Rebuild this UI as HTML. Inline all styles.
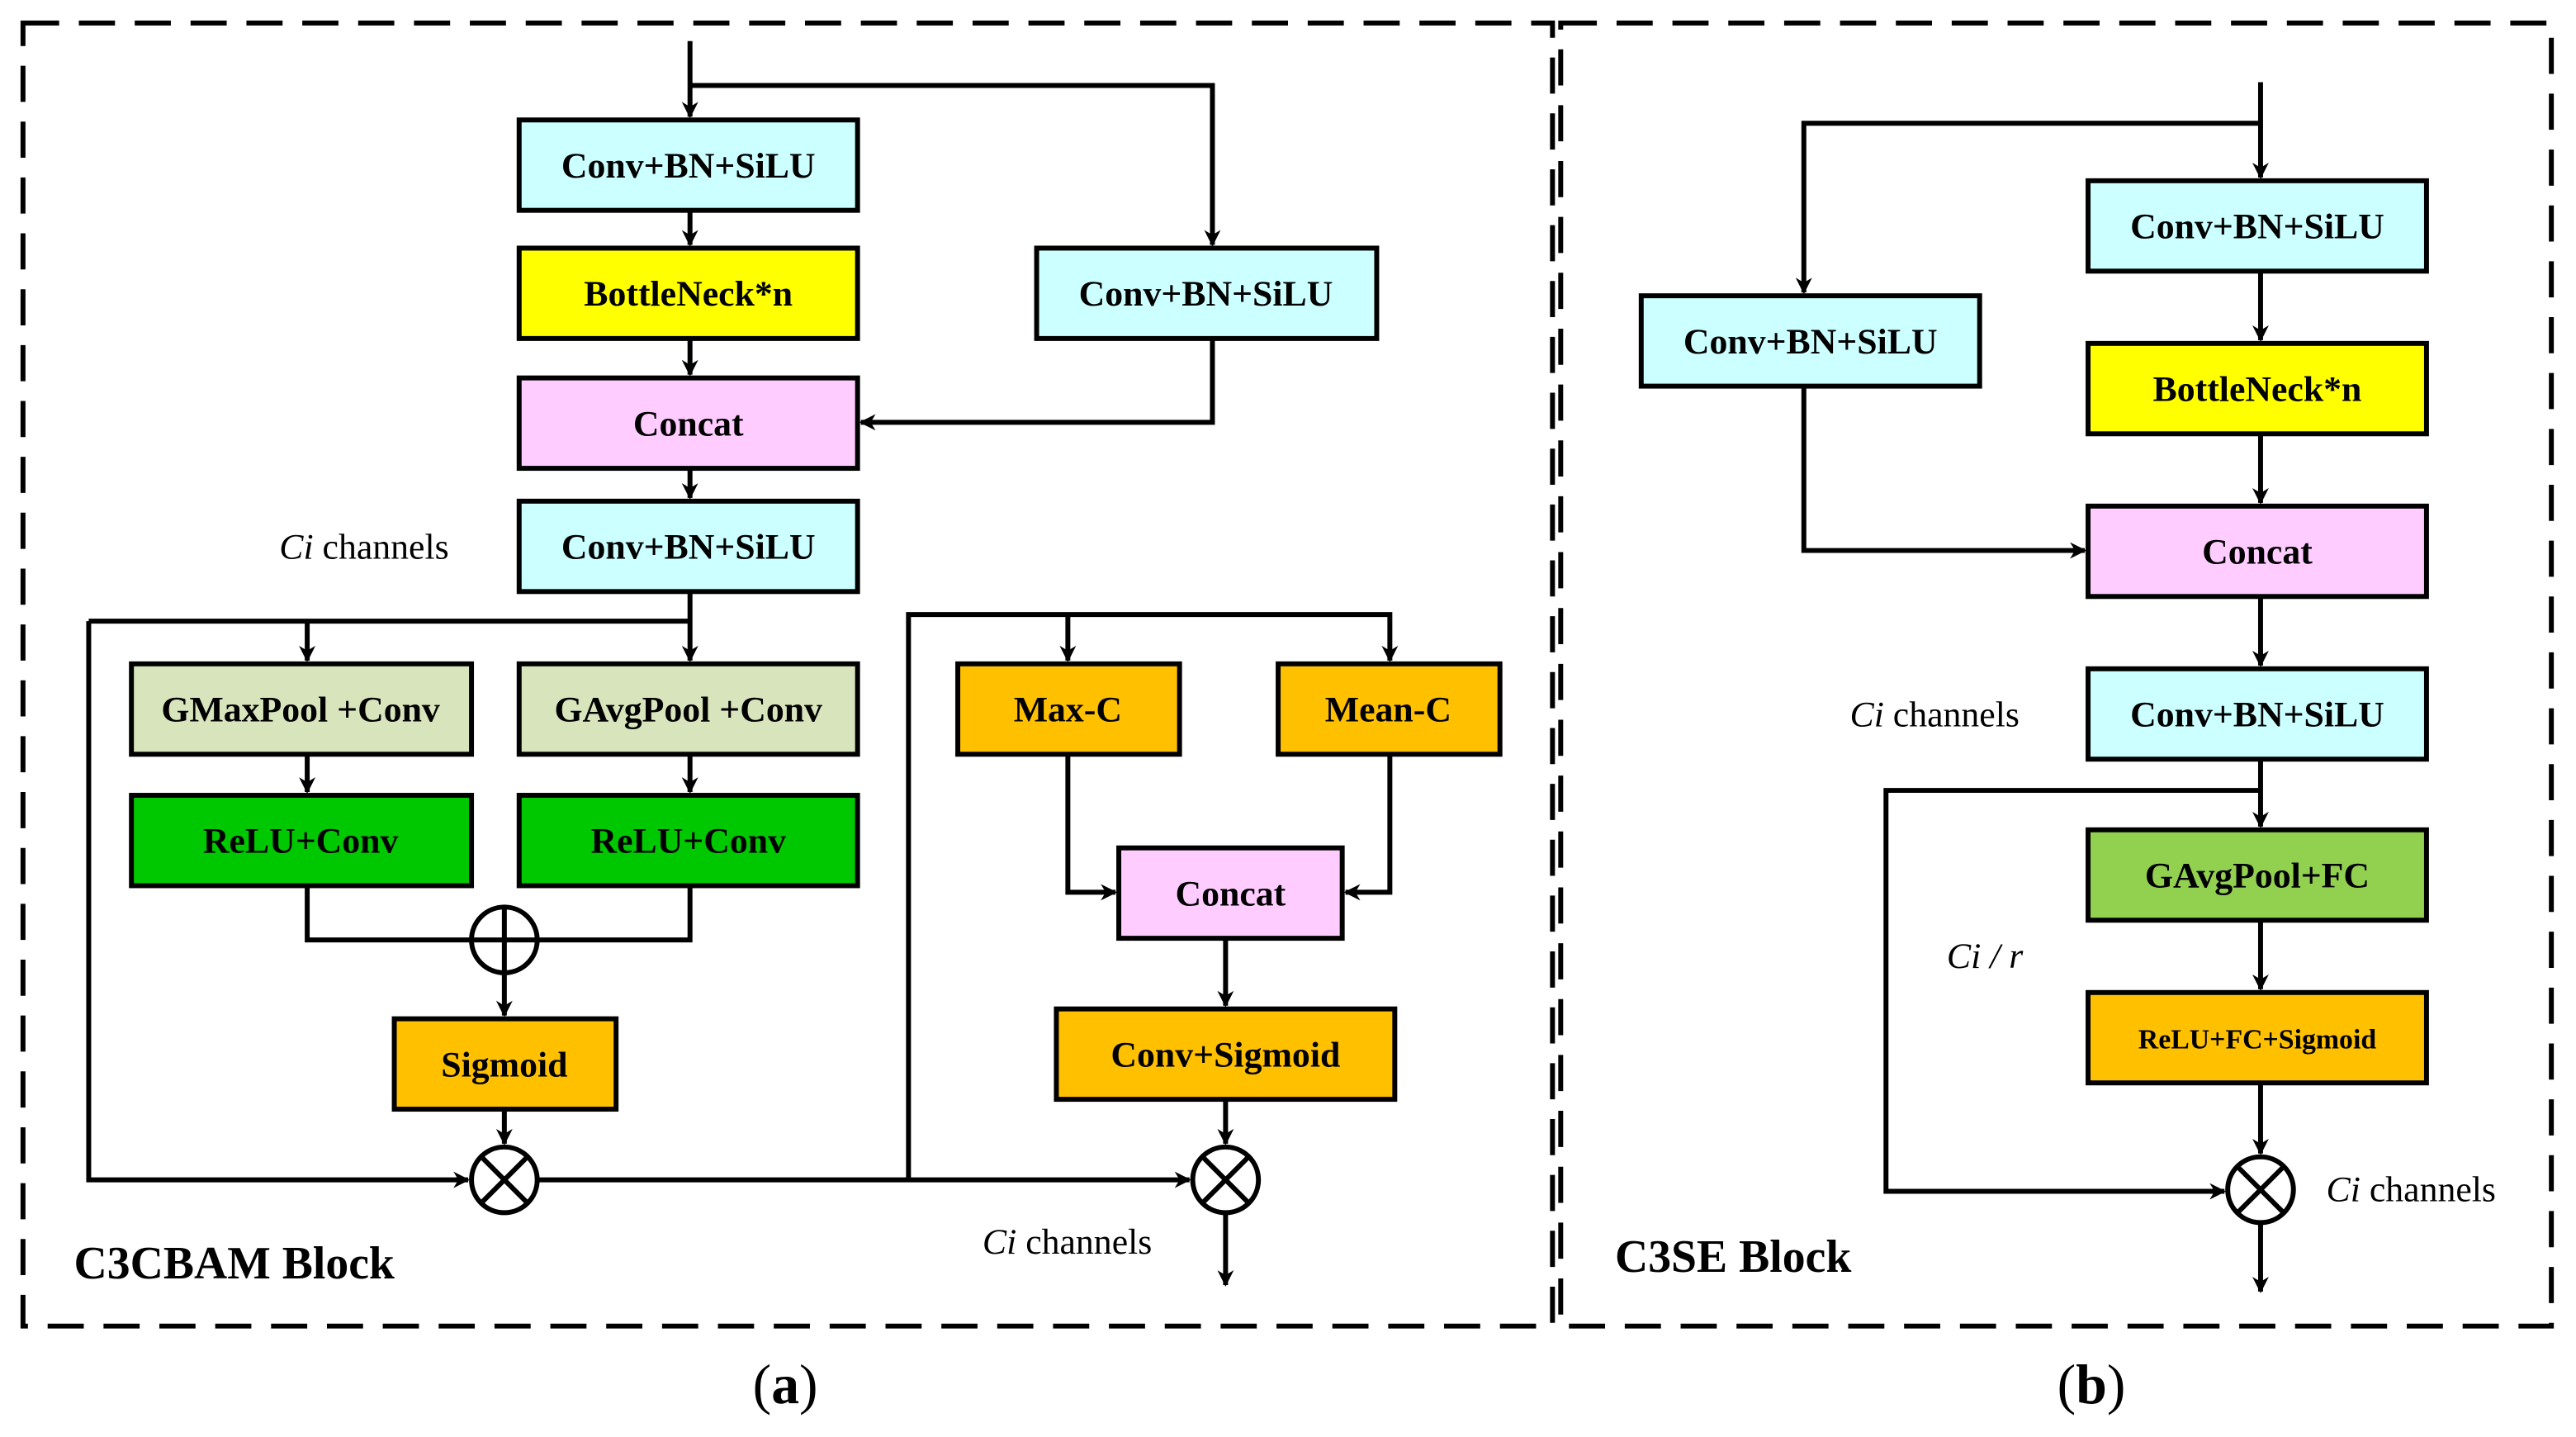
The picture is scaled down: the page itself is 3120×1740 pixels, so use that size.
<!DOCTYPE html>
<html><head><meta charset="utf-8"><style>html,body{margin:0;padding:0;background:#fff}svg{display:block}</style></head>
<body>
<svg width="3120" height="1740" viewBox="0 0 1568 874.5" preserveAspectRatio="none" xmlns="http://www.w3.org/2000/svg">
<defs>
<marker id="a" markerWidth="10" markerHeight="10" refX="9" refY="5" orient="auto" markerUnits="userSpaceOnUse"><path d="M0,0 L10,5 L0,10 L3,5 z" fill="#000"/></marker>
</defs>
<g fill="none" stroke="#000" stroke-width="3" stroke-dasharray="22 12">
<rect x="14" y="14" width="931" height="793"/>
<rect x="950" y="14" width="603" height="793"/>
</g>
<g stroke="#000" stroke-width="3">
<rect x="316" y="73" width="206" height="55" fill="#ccffff"/>
<rect x="316" y="151" width="206" height="55" fill="#ffff00"/>
<rect x="316" y="230" width="206" height="55" fill="#ffccff"/>
<rect x="316" y="305" width="206" height="55" fill="#ccffff"/>
<rect x="631" y="151" width="207" height="55" fill="#ccffff"/>
<rect x="80" y="404" width="207" height="55" fill="#d8e4bc"/>
<rect x="316" y="404" width="206" height="55" fill="#d8e4bc"/>
<rect x="80" y="484" width="207" height="55" fill="#00c800"/>
<rect x="316" y="484" width="206" height="55" fill="#00c800"/>
<rect x="240" y="620" width="135" height="55" fill="#ffc000"/>
<rect x="583" y="404" width="135" height="55" fill="#ffc000"/>
<rect x="778" y="404" width="135" height="55" fill="#ffc000"/>
<rect x="681" y="516" width="136" height="55" fill="#ffccff"/>
<rect x="643" y="614" width="206" height="55" fill="#ffc000"/>
<rect x="999" y="180" width="206" height="55" fill="#ccffff"/>
<rect x="1271" y="110" width="206" height="55" fill="#ccffff"/>
<rect x="1271" y="209" width="206" height="55" fill="#ffff00"/>
<rect x="1271" y="308" width="206" height="55" fill="#ffccff"/>
<rect x="1271" y="407" width="206" height="55" fill="#ccffff"/>
<rect x="1271" y="505" width="206" height="55" fill="#92d050"/>
<rect x="1271" y="604" width="206" height="55" fill="#ffc000"/>
</g>
<g fill="none" stroke="#000" stroke-width="3">
<path d="M420,25 V71" marker-end="url(#a)"/>
<path d="M420,52 H738 V149" marker-end="url(#a)"/>
<path d="M420,128 V149" marker-end="url(#a)"/>
<path d="M420,206 V228" marker-end="url(#a)"/>
<path d="M738,206 V257 H524" marker-end="url(#a)"/>
<path d="M420,285 V303" marker-end="url(#a)"/>
<path d="M420,360 V402" marker-end="url(#a)"/>
<path d="M54,378 H420"/>
<path d="M187,378 V402" marker-end="url(#a)"/>
<path d="M187,459 V482" marker-end="url(#a)"/>
<path d="M420,459 V482" marker-end="url(#a)"/>
<path d="M187,539 V572 H420 V539"/>
<circle cx="307" cy="572" r="20" fill="#fff"/>
<path d="M307,552 V592 M287,572 H327"/>
<path d="M307,592 V618" marker-end="url(#a)"/>
<path d="M307,675 V696" marker-end="url(#a)"/>
<circle cx="307" cy="718" r="20"/>
<path d="M293,704 L321,732 M321,704 L293,732"/>
<path d="M54,378 V718 H285" marker-end="url(#a)"/>
<path d="M327,718 H724" marker-end="url(#a)"/>
<path d="M553,718 V374 H846 V402" marker-end="url(#a)"/>
<path d="M650,374 V402" marker-end="url(#a)"/>
<path d="M650,459 V543 H679" marker-end="url(#a)"/>
<path d="M846,459 V543 H819" marker-end="url(#a)"/>
<path d="M746,571 V612" marker-end="url(#a)"/>
<path d="M746,669 V696" marker-end="url(#a)"/>
<circle cx="746" cy="718" r="20"/>
<path d="M732,704 L760,732 M760,704 L732,732"/>
<path d="M746,738 V782" marker-end="url(#a)"/>
<path d="M1376,50 V108" marker-end="url(#a)"/>
<path d="M1376,75 H1098 V178" marker-end="url(#a)"/>
<path d="M1376,165 V207" marker-end="url(#a)"/>
<path d="M1376,264 V306" marker-end="url(#a)"/>
<path d="M1098,235 V335 H1269" marker-end="url(#a)"/>
<path d="M1376,363 V405" marker-end="url(#a)"/>
<path d="M1376,462 V503" marker-end="url(#a)"/>
<path d="M1376,481 H1148 V725 H1354" marker-end="url(#a)"/>
<path d="M1376,560 V602" marker-end="url(#a)"/>
<path d="M1376,659 V702" marker-end="url(#a)"/>
<circle cx="1376" cy="724" r="20"/>
<path d="M1362,710 L1390,738 M1390,710 L1362,738"/>
<path d="M1376,744 V786" marker-end="url(#a)"/>
</g>
<g font-family="Liberation Serif, serif" font-weight="bold" font-size="22" text-anchor="middle" fill="#000">
<text x="419" y="108">Conv+BN+SiLU</text>
<text x="419" y="186">BottleNeck*n</text>
<text x="419" y="265">Concat</text>
<text x="419" y="340">Conv+BN+SiLU</text>
<text x="734" y="186">Conv+BN+SiLU</text>
<text x="183" y="439">GMaxPool +Conv</text>
<text x="419" y="439">GAvgPool +Conv</text>
<text x="183" y="519">ReLU+Conv</text>
<text x="419" y="519">ReLU+Conv</text>
<text x="307" y="655">Sigmoid</text>
<text x="650" y="439">Max-C</text>
<text x="845" y="439">Mean-C</text>
<text x="749" y="551">Concat</text>
<text x="746" y="649">Conv+Sigmoid</text>
<text x="1102" y="215">Conv+BN+SiLU</text>
<text x="1374" y="145">Conv+BN+SiLU</text>
<text x="1374" y="244">BottleNeck*n</text>
<text x="1374" y="343">Concat</text>
<text x="1374" y="442">Conv+BN+SiLU</text>
<text x="1374" y="540">GAvgPool+FC</text>
<text x="1374" y="638" font-size="17">ReLU+FC+Sigmoid</text>
</g>
<g font-family="Liberation Serif, serif" font-size="22" fill="#000">
<text x="170" y="340"><tspan font-style="italic">Ci</tspan>  channels</text>
<text x="598" y="763"><tspan font-style="italic">Ci</tspan>  channels</text>
<text x="1126" y="442"><tspan font-style="italic">Ci</tspan>  channels</text>
<text x="1185" y="589" font-style="italic">Ci / r</text>
<text x="1416" y="731"><tspan font-style="italic">Ci</tspan>  channels</text>
<text x="45" y="778" font-size="28" font-weight="bold">C3CBAM Block</text>
<text x="983" y="774" font-size="28" font-weight="bold">C3SE Block</text>
<text x="478" y="854" font-size="34" text-anchor="middle">(<tspan font-weight="bold">a</tspan>)</text>
<text x="1273" y="854" font-size="34" text-anchor="middle">(<tspan font-weight="bold">b</tspan>)</text>
</g>
</svg>
</body></html>
